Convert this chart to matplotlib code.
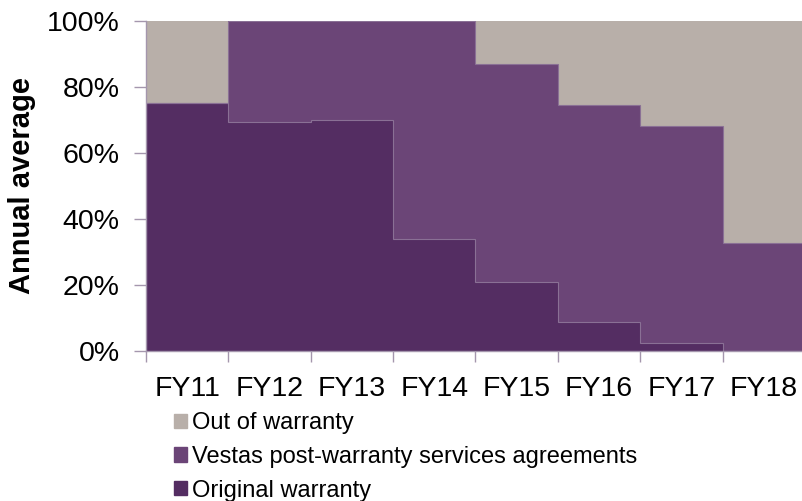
import matplotlib
matplotlib.use('Agg')
import matplotlib.pyplot as plt
import matplotlib.patches as mpatches
import numpy as np

plt.rcParams['font.family'] = ['Liberation Sans', 'DejaVu Sans']

# --- data (share of fleet, %) ---
years = ['FY11', 'FY12', 'FY13', 'FY14', 'FY15', 'FY16', 'FY17', 'FY18']
original = [75.2, 69.3, 69.9, 33.8, 21.0, 8.7, 2.3, 0.0]
post_warranty = [0.0, 30.7, 30.1, 66.2, 66.1, 65.7, 66.0, 32.7]
out_of_warranty = [24.8, 0.0, 0.0, 0.0, 12.9, 25.6, 31.7, 67.3]

c_orig = '#542d62'
c_post = '#6b4577'
c_out = '#b8afa9'
c_edge = '#8a7095'
c_spine = '#a496ad'

fig = plt.figure(figsize=(8.03, 5.01), dpi=100)
ax = fig.add_axes([146 / 803, 150 / 501, 659 / 803, 330 / 501])

x = np.arange(len(years))
orig = np.array(original)
post = np.array(post_warranty)
out = np.array(out_of_warranty)

ax.bar(x, orig, width=1.0, color=c_orig, linewidth=0)
ax.bar(x, post, width=1.0, bottom=orig, color=c_post, linewidth=0)
ax.bar(x, out, width=1.0, bottom=orig + post, color=c_out, linewidth=0)

# thin outlines along the series boundaries
edges = np.arange(len(years) + 1) - 0.5
ax.stairs(orig, edges, baseline=None, color=c_edge, linewidth=0.8)
ax.stairs(orig + post, edges, baseline=None, color=c_edge, linewidth=0.8)

ax.set_xlim(-0.5, len(years) - 0.5)
ax.set_ylim(0, 100)

# y axis
ax.set_yticks(np.arange(0, 101, 20))
ax.set_yticklabels([f'{v}%' for v in range(0, 101, 20)])
ax.tick_params(axis='y', labelsize=20.5, length=9, width=1, color=c_spine, pad=10)
ax.set_ylabel('Annual average', fontsize=21, fontweight='bold', labelpad=8)

# x axis: ticks at the category boundaries, labels centred
ax.set_xticks(edges)
ax.set_xticklabels([''] * len(edges))
ax.tick_params(axis='x', length=8, width=1, color=c_spine)
ax.set_xticks(x, minor=True)
ax.set_xticklabels(years, minor=True)
ax.tick_params(axis='x', which='minor', length=0, labelsize=20.5, pad=18)

for s in ['top', 'right']:
    ax.spines[s].set_visible(False)
for s in ['left', 'bottom']:
    ax.spines[s].set_color(c_spine)
    ax.spines[s].set_linewidth(1)

handles = [mpatches.Patch(color=c_out), mpatches.Patch(color=c_post), mpatches.Patch(color=c_orig)]
labels = ['Out of warranty', 'Vestas post-warranty services agreements', 'Original warranty']
fig.legend(handles, labels, loc='upper left', bbox_to_anchor=(174 / 803, 1 - 412 / 501),
           frameon=False, fontsize=17, handlelength=0.55, handleheight=0.55,
           handletextpad=0.2, labelspacing=0.5, borderpad=0, borderaxespad=0)

fig.savefig('out.png', dpi=100)
